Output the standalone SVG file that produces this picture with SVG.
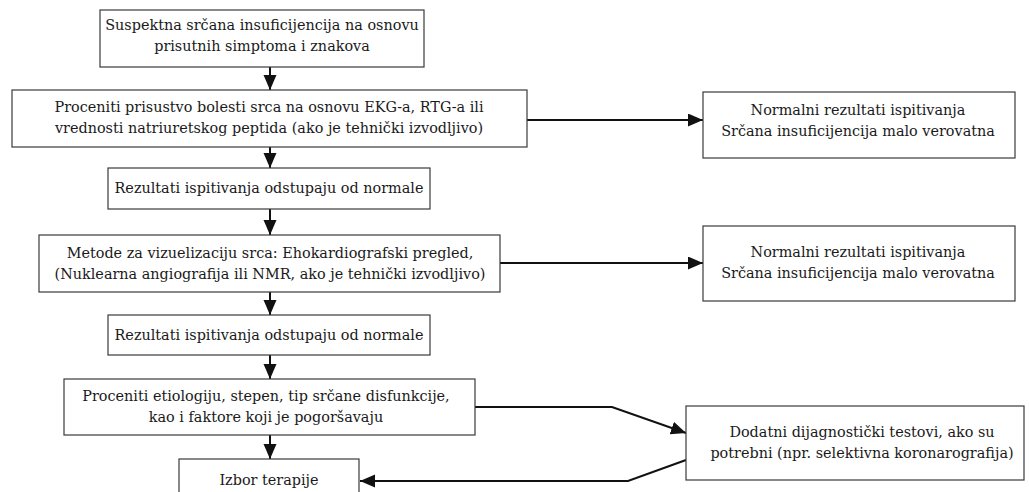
<svg xmlns="http://www.w3.org/2000/svg" width="1029" height="492" viewBox="0 0 1029 492">
<defs>
<style>
.box{fill:#fff;stroke:#3a3a3a;stroke-width:1.2}
.t{font-family:"DejaVu Serif","Liberation Serif",serif;font-size:14.4px;fill:#1a1a1a;text-anchor:middle}
.c{fill:none;stroke:#111;stroke-width:2}
</style>
<marker id="ah" markerUnits="userSpaceOnUse" markerWidth="16" markerHeight="14" refX="15" refY="6.5" orient="auto">
<path d="M0,0 L15,6.5 L0,13 z" fill="#111"/>
</marker>
</defs>
<rect width="1029" height="492" fill="#fff"/>
<g id="connectors">
<line class="c" x1="270" y1="67" x2="270" y2="90" marker-end="url(#ah)"/>
<line class="c" x1="270" y1="147" x2="270" y2="168" marker-end="url(#ah)"/>
<line class="c" x1="270" y1="209" x2="270" y2="235" marker-end="url(#ah)"/>
<line class="c" x1="270" y1="292" x2="270" y2="315" marker-end="url(#ah)"/>
<line class="c" x1="270" y1="355" x2="270" y2="379" marker-end="url(#ah)"/>
<line class="c" x1="270" y1="435" x2="270" y2="459" marker-end="url(#ah)"/>
<line class="c" x1="527" y1="120" x2="703" y2="120" marker-end="url(#ah)"/>
<line class="c" x1="500" y1="263" x2="703" y2="263" marker-end="url(#ah)"/>
<polyline class="c" points="475,407 612,407 686,433" marker-end="url(#ah)"/>
<polyline class="c" points="686,460 628,481 360,481" marker-end="url(#ah)"/>
</g>
<g id="n1"><rect class="box" x="100" y="10" width="324" height="57"/>
<text class="t" x="262" y="30">Suspektna srčana insuficijencija na osnovu</text>
<text class="t" x="262" y="51">prisutnih simptoma i znakova</text></g>
<g id="n2"><rect class="box" x="12" y="90" width="515" height="57"/>
<text class="t" x="269" y="112">Proceniti prisustvo bolesti srca na osnovu EKG-a, RTG-a ili</text>
<text class="t" x="269" y="133">vrednosti natriuretskog peptida (ako je tehnički izvodljivo)</text></g>
<g id="n3"><rect class="box" x="108" y="168" width="322" height="41"/>
<text class="t" x="269" y="193">Rezultati ispitivanja odstupaju od normale</text></g>
<g id="n4"><rect class="box" x="39" y="235" width="461" height="57"/>
<text class="t" x="270" y="258">Metode za vizuelizaciju srca: Ehokardiografski pregled,</text>
<text class="t" x="270" y="279">(Nuklearna angiografija ili NMR, ako je tehnički izvodljivo)</text></g>
<g id="n5"><rect class="box" x="108" y="315" width="322" height="40"/>
<text class="t" x="269" y="340">Rezultati ispitivanja odstupaju od normale</text></g>
<g id="n6"><rect class="box" x="64" y="379" width="411" height="56"/>
<text class="t" x="266" y="401">Proceniti etiologiju, stepen, tip srčane disfunkcije,</text>
<text class="t" x="266" y="422">kao i faktore koji je pogoršavaju</text></g>
<g id="n7"><rect class="box" x="179" y="459" width="180" height="45"/>
<text class="t" x="269" y="485">Izbor terapije</text></g>
<g id="r1"><rect class="box" x="703" y="92" width="312" height="66"/>
<text class="t" x="858" y="115">Normalni rezultati ispitivanja</text>
<text class="t" x="858" y="136">Srčana insuficijencija malo verovatna</text></g>
<g id="r2"><rect class="box" x="703" y="226" width="312" height="75"/>
<text class="t" x="858" y="257">Normalni rezultati ispitivanja</text>
<text class="t" x="858" y="278">Srčana insuficijencija malo verovatna</text></g>
<g id="r3"><rect class="box" x="686" y="406" width="338" height="74"/>
<text class="t" x="862" y="437">Dodatni dijagnostički testovi, ako su</text>
<text class="t" x="862" y="458">potrebni (npr. selektivna koronarografija)</text></g>
</svg>
